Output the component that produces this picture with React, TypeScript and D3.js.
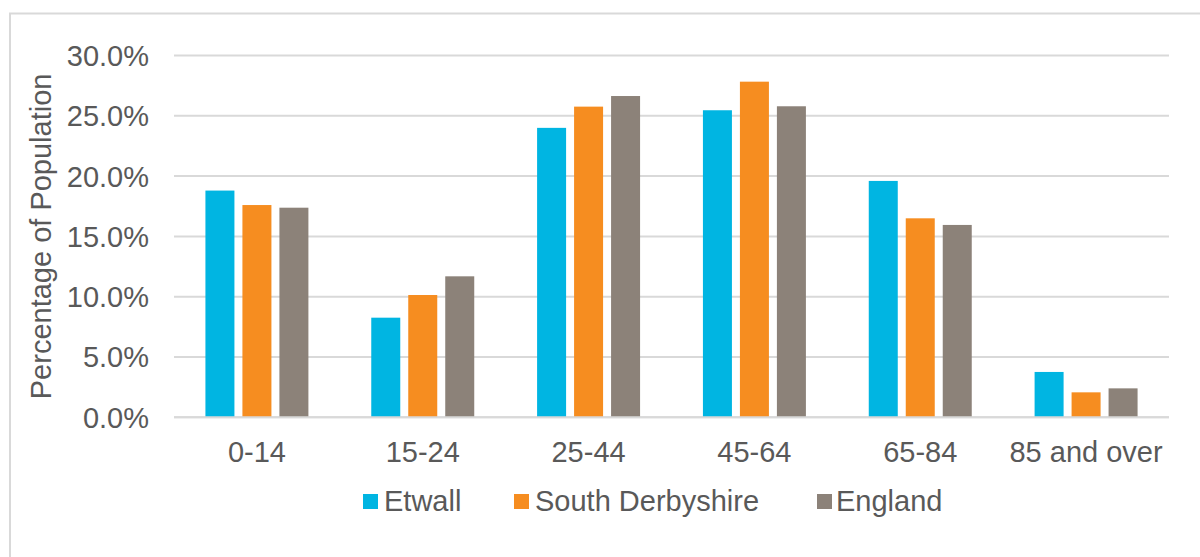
import React from "react";
import * as d3 from "d3";

const categories = ["0-14", "15-24", "25-44", "45-64", "65-84", "85 and over"];
const seriesNames = ["Etwall", "South Derbyshire", "England"];
const etwall = [18.8, 8.26, 24.0, 25.46, 19.6, 3.76];
const southDerbyshire = [17.6, 10.14, 25.76, 27.83, 16.5, 2.07];
const england = [17.38, 11.69, 26.64, 25.79, 15.95, 2.4];
const seriesColors = ["#00b5e2", "#f68d20", "#8c8279"];
const yTicks = [0, 5, 10, 15, 20, 25, 30];

const W = 1200;
const H = 557;
const plotLeft = 174;
const plotRight = 1169;
const plotTop = 55.5;
const plotBottom = 417.3;
const FONT = "'Liberation Sans', Arial, sans-serif";
const TXT = "#595959";
const FS = 29;

export default function App() {
  const series = [etwall, southDerbyshire, england];
  const y = d3.scaleLinear().domain([0, 30]).range([plotBottom, plotTop]);
  const x0 = d3
    .scaleBand<string>()
    .domain(categories)
    .range([plotLeft, plotRight])
    .paddingInner(0.379)
    .paddingOuter(0.1895);
  const x1 = d3
    .scaleBand<string>()
    .domain(seriesNames)
    .range([0, x0.bandwidth()])
    .paddingInner(0.216)
    .paddingOuter(0);

  const legendItems = [
    { name: seriesNames[0], sq: 363, tx: 384 },
    { name: seriesNames[1], sq: 514, tx: 535 },
    { name: seriesNames[2], sq: 817, tx: 836 },
  ];

  return (
    <svg
      width={W}
      height={H}
      style={{ position: "absolute", left: 0, top: 0, background: "#fff" }}
    >
      <rect x={10} y={13.5} width={1200} height={600} fill="#fff" stroke="#d9d9d9" strokeWidth={2} />
      {yTicks.map((t) => (
        <g key={t}>
          <line
            x1={plotLeft}
            x2={plotRight}
            y1={y(t)}
            y2={y(t)}
            stroke="#d9d9d9"
            strokeWidth={2}
          />
          <text
            x={149}
            y={y(t)}
            dy="0.36em"
            textAnchor="end"
            fontFamily={FONT}
            fontSize={FS}
            fill={TXT}
          >
            {t.toFixed(1) + "%"}
          </text>
        </g>
      ))}
      {categories.map((c, i) => (
        <g key={c}>
          {series.map((s, j) => (
            <rect
              key={j}
              x={(x0(c) as number) + (x1(seriesNames[j]) as number)}
              y={y(s[i])}
              width={x1.bandwidth()}
              height={plotBottom - y(s[i])}
              fill={seriesColors[j]}
            />
          ))}
          <text
            x={(x0(c) as number) + x0.bandwidth() / 2}
            y={462}
            textAnchor="middle"
            fontFamily={FONT}
            fontSize={FS}
            fill={TXT}
          >
            {c}
          </text>
        </g>
      ))}
      <line x1={plotLeft} x2={plotRight} y1={plotBottom} y2={plotBottom} stroke="#d9d9d9" strokeWidth={2} />
      <text
        transform={`translate(51, ${(plotTop + plotBottom) / 2}) rotate(-90)`}
        textAnchor="middle"
        fontFamily={FONT}
        fontSize={FS}
        fill={TXT}
      >
        Percentage of Population
      </text>
      {legendItems.map((l, i) => (
        <g key={l.name}>
          <rect x={l.sq} y={494} width={15} height={15} fill={seriesColors[i]} />
          <text x={l.tx} y={510.5} fontFamily={FONT} fontSize={FS} fill={TXT}>
            {l.name}
          </text>
        </g>
      ))}
    </svg>
  );
}
